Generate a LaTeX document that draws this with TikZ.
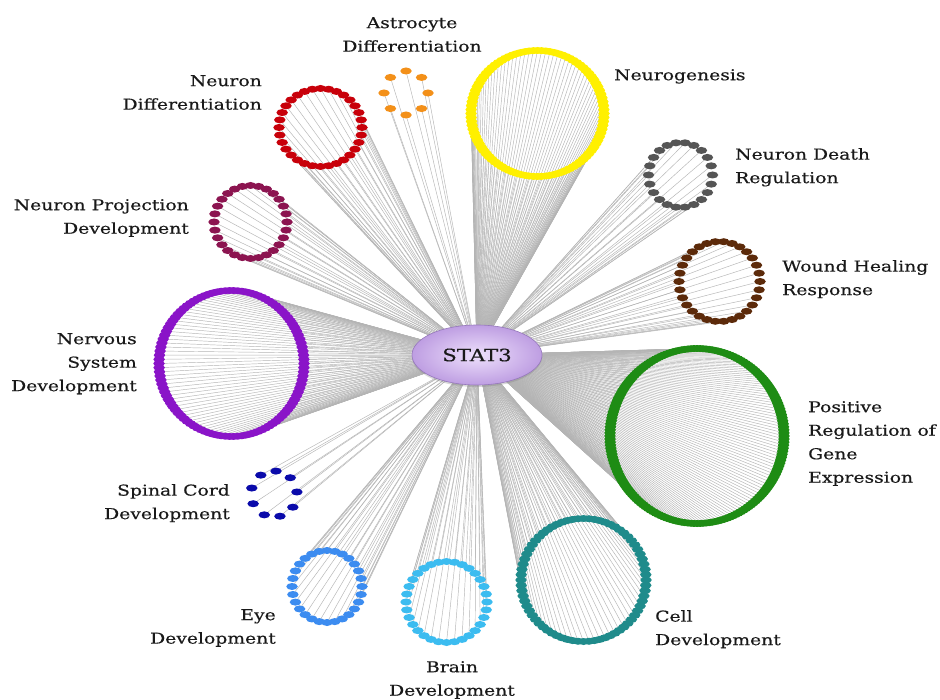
\documentclass[tikz,border=0pt]{standalone}
\usepackage{fontspec}
\setmainfont{DejaVu Serif}[FakeStretch=1.25, FakeBold=0.35]
\usetikzlibrary{shapes.geometric,shadows}

\pgfdeclarelayer{paper}
\pgfdeclarelayer{edges}
\pgfsetlayers{paper,edges,main}

\definecolor{astro}{RGB}{243,144,25}
\definecolor{ndiff}{RGB}{200,0,10}
\definecolor{ngen}{RGB}{255,240,0}
\definecolor{ndeath}{RGB}{85,85,85}
\definecolor{wound}{RGB}{92,42,10}
\definecolor{posreg}{RGB}{30,140,20}
\definecolor{celldev}{RGB}{31,139,139}
\definecolor{braindev}{RGB}{60,188,240}
\definecolor{eyedev}{RGB}{60,140,240}
\definecolor{spinal}{RGB}{10,10,170}
\definecolor{nervous}{RGB}{138,20,200}
\definecolor{nproj}{RGB}{140,20,80}
\definecolor{linkgray}{RGB}{180,180,180}
\definecolor{termtext}{RGB}{25,25,25}
\definecolor{hubin}{RGB}{238,224,252}
\definecolor{hubout}{RGB}{190,158,226}
\definecolor{hubedge}{RGB}{150,120,188}

\tikzset{
  gene/.style={ellipse, inner sep=0pt, minimum width=11.5pt, minimum height=7pt, draw=none},
  link/.style={draw=linkgray, line width=0.45pt},
  term/.style={inner sep=0pt, font=\fontsize{15}{23.5}\selectfont, text=termtext},
  hub/.style={ellipse, minimum width=130pt, minimum height=60pt, inner sep=0pt,
    inner color=hubin, outer color=hubout, draw=hubedge, line width=0.6pt,
    drop shadow={shadow xshift=0pt, shadow yshift=-2pt, opacity=0.3},
    font=\fontsize{17}{17}\selectfont, text=termtext}
}

\begin{document}
\begin{tikzpicture}[x=1pt,y=-1pt]
\useasboundingbox (0,0) rectangle (940,700);
\begin{pgfonlayer}{paper}
  \fill[white] (0,0) rectangle (940,700);
\end{pgfonlayer}

% central gene
\node[hub] (stat) at (477,355) {STAT3};

% gene sets: name / centre x / centre y / radius x / radius y / members / start angle / colour
\foreach \nm/\cx/\cy/\rx/\ry/\n/\a/\col in {
  ast/406/93/22/22/8/0/astro,
  ndf/320.5/127.5/41.5/39/32/0/ndiff,
  ngn/537.5/113.5/66.5/63/100/0/ngen,
  ndr/680.5/175/32/32.5/22/0/ndeath,
  wnd/719.5/281.5/40.5/40/30/0/wound,
  prg/697/436/87/87.5/180/0/posreg,
  cel/583.5/580/62.5/61.5/72/0/celldev,
  brn/446.5/602/40.5/40.5/32/0/braindev,
  eye/327/586.5/35/36/28/0/eyedev,
  spc/274/494/23/23/9/5/spinal,
  nsd/231.5/363.5/72.5/73/110/0/nervous,
  npd/250.5/222/36.5/36.5/28/0/nproj%
}{
  \foreach \i in {1,...,\n}{
    \pgfmathsetmacro{\ang}{\a+360/\n*\i}
    \node[gene, fill=\col] (\nm-\i)
      at ({\cx+\rx*cos(\ang)},{\cy-\ry*sin(\ang)}) {};
  }
  % links run centre to centre; genes and hub are drawn above them
  \begin{pgfonlayer}{edges}
    \foreach \i in {1,...,\n}{ \draw[link] (\nm-\i.center) -- (stat.center); }
  \end{pgfonlayer}
}

% gene set labels
\node[term, anchor=north, align=center] (l-ast) at (412,17) {Astrocyte\\Differentiation};
\node[term, anchor=north east, align=right] (l-ndf) at (262,75) {Neuron\\Differentiation};
\node[term, anchor=north west, align=left] (l-ngn) at (614,69) {Neurogenesis};
\node[term, anchor=north west, align=left] (l-ndr) at (735,148) {Neuron Death\\Regulation};
\node[term, anchor=north west, align=left] (l-wnd) at (782,260) {Wound Healing\\Response};
\node[term, anchor=north west, align=left] (l-prg) at (808,401) {Positive\\Regulation of\\Gene\\Expression};
\node[term, anchor=north west, align=left] (l-cel) at (655,610) {Cell\\Development};
\node[term, anchor=north, align=center] (l-brn) at (452,661) {Brain\\Development};
\node[term, anchor=north east, align=right] (l-eye) at (276,609) {Eye\\Development};
\node[term, anchor=north east, align=right] (l-spc) at (230,484) {Spinal Cord\\Development};
\node[term, anchor=north east, align=right] (l-nsd) at (137,333) {Nervous\\System\\Development};
\node[term, anchor=north east, align=right] (l-npd) at (189,199) {Neuron Projection\\Development};
\end{tikzpicture}
\end{document}
